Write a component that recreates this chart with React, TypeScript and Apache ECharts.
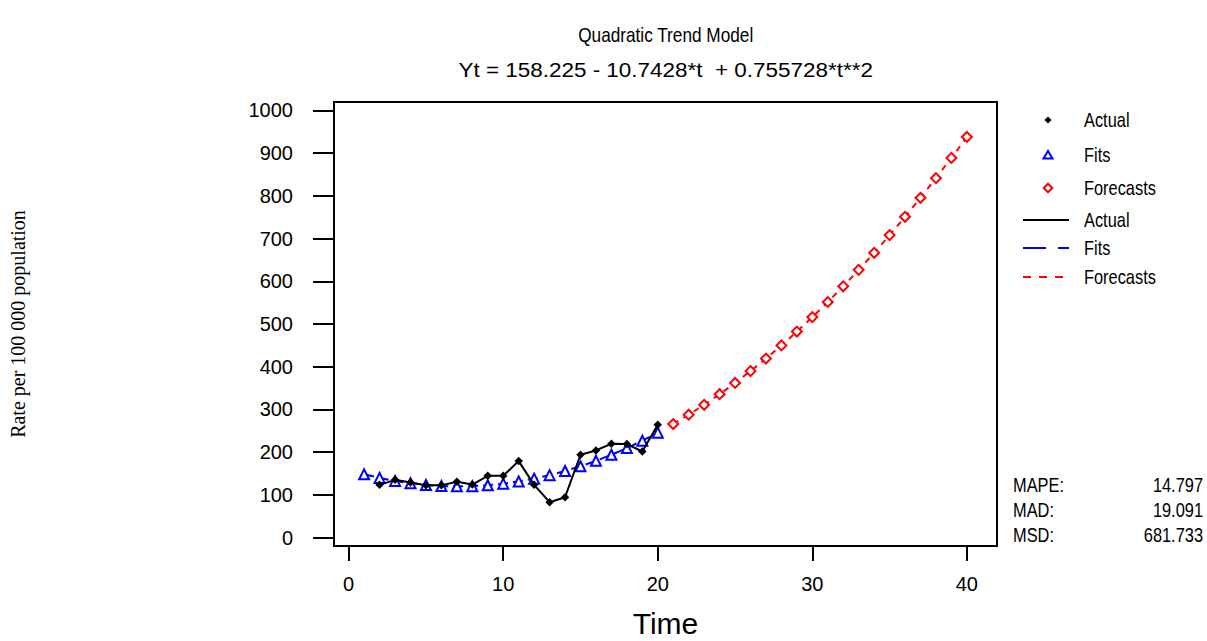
import React, { useEffect, useRef } from "react";
import * as echarts from "echarts";

const titleText = "Quadratic Trend Model";
const equationText = "Yt = 158.225 - 10.7428*t  + 0.755728*t**2";
const yAxisTitle = "Rate per 100 000 population";
const xAxisTitle = "Time";

const xTicks = [0, 10, 20, 30, 40];
const yTicks = [0, 100, 200, 300, 400, 500, 600, 700, 800, 900, 1000];

const actualTimes = [2, 3, 4, 5, 6, 7, 8, 9, 10, 11, 12, 13, 14, 15, 16, 17, 18, 19, 20];
const actualValues = [123.6, 135.3, 129.0, 122.9, 122.9, 130.6, 124.3, 144.7, 144.7, 179.2, 123.6, 83.0, 94.7, 194.0, 204.1, 219.7, 219.0, 201.7, 264.3];

const fitTimes = [1, 2, 3, 4, 5, 6, 7, 8, 9, 10, 11, 12, 13, 14, 15, 16, 17, 18, 19, 20];
const fitValues = [148.2, 139.8, 132.8, 127.3, 123.4, 121.0, 120.1, 120.6, 122.8, 126.4, 131.5, 138.1, 146.3, 155.9, 167.1, 179.8, 194.0, 209.7, 226.9, 245.7];

const forecastTimes = [21, 22, 23, 24, 25, 26, 27, 28, 29, 30, 31, 32, 33, 34, 35, 36, 37, 38, 39, 40];
const forecastValues = [265.9, 287.7, 310.9, 335.7, 362.0, 389.8, 419.1, 449.9, 482.3, 516.1, 551.5, 588.3, 626.7, 666.6, 708.0, 750.9, 795.3, 841.3, 888.7, 937.7];

const legendLabels = ["Actual", "Fits", "Forecasts", "Actual", "Fits", "Forecasts"];
const statNames = ["MAPE:", "MAD:", "MSD:"];
const statValues = ["14.797", "19.091", "681.733"];

const SANS = "'Liberation Sans', Arial, sans-serif";
const SERIF = "'Liberation Serif', 'Times New Roman', serif";

function pairs(xs: number[], ys: number[]) {
  return xs.map((x, i) => [x, ys[i]]);
}

export default function App() {
  const ref = useRef<HTMLDivElement>(null);
  useEffect(() => {
    if (!ref.current) return;
    const chart = echarts.init(ref.current, undefined, { renderer: "svg" });

    const legendY = [120, 155, 188, 220, 248, 277];
    const graphics: any[] = [];
    graphics.push({
      type: "text", x: 665.7, y: 35, scaleX: 0.82,
      style: { text: titleText, fontFamily: SANS, fontSize: 21, fill: "#000", verticalAlign: "middle", align: "center" },
    });
    graphics.push({
      type: "text", x: 665.7, y: 70, scaleX: 1.07,
      style: { text: equationText, fontFamily: SANS, fontSize: 21, fill: "#000", verticalAlign: "middle", align: "center" },
    });
    // marker legend entries
    graphics.push({
      type: "rect", x: 1048, y: legendY[0], rotation: Math.PI / 4,
      shape: { x: -2.5, y: -2.5, width: 5, height: 5 },
      style: { fill: "#000" },
    });
    graphics.push({
      type: "polygon",
      shape: { points: [[1048, legendY[1] - 4], [1043.5, legendY[1] + 3.5], [1052.5, legendY[1] + 3.5]] },
      style: { fill: "#fff", stroke: "#0000ff", lineWidth: 2 },
    });
    graphics.push({
      type: "rect", x: 1048, y: legendY[2], rotation: Math.PI / 4,
      shape: { x: -3, y: -3, width: 6, height: 6 },
      style: { fill: "#fff", stroke: "#ff0000", lineWidth: 2 },
    });
    graphics.push({
      type: "line", shape: { x1: 1023, y1: legendY[3], x2: 1069, y2: legendY[3] },
      style: { stroke: "#000", lineWidth: 2 },
    });
    graphics.push({
      type: "line", shape: { x1: 1023, y1: legendY[4], x2: 1069, y2: legendY[4] },
      style: { stroke: "#0000ff", lineWidth: 2, lineDash: [23, 12] },
    });
    graphics.push({
      type: "line", shape: { x1: 1023, y1: legendY[5], x2: 1069, y2: legendY[5] },
      style: { stroke: "#ff0000", lineWidth: 2, lineDash: [8, 8] },
    });
    legendLabels.forEach((t, i) => {
      graphics.push({
        type: "text", x: 1084, y: legendY[i], scaleX: 0.82,
        style: { text: t, fontFamily: SANS, fontSize: 20, fill: "#000", verticalAlign: "middle", align: "left" },
      });
    });
    const statY = [485, 510, 535];
    statNames.forEach((t, i) => {
      graphics.push({
        type: "text", x: 1013, y: statY[i], scaleX: 0.82,
        style: { text: t, fontFamily: SANS, fontSize: 20, fill: "#000", verticalAlign: "middle", align: "left" },
      });
      graphics.push({
        type: "text", x: 1203, y: statY[i], scaleX: 0.82,
        style: { text: statValues[i], fontFamily: SANS, fontSize: 20, fill: "#000", verticalAlign: "middle", align: "right" },
      });
    });

    chart.setOption({
      animation: false,
      backgroundColor: "#fff",
      grid: {
        left: 334, top: 102, width: 663, height: 444,
        outerBoundsMode: "none", containLabel: false,
        show: true, borderColor: "#000", borderWidth: 2, backgroundColor: "transparent",
      },
      xAxis: {
        type: "value", min: -0.95, max: 41.95,
        name: xAxisTitle, nameLocation: "middle", nameGap: 62,
        nameTextStyle: { fontFamily: SANS, fontSize: 30, color: "#000" },
        axisLine: { show: false, onZero: false },
        axisTick: { show: true, length: 15, lineStyle: { color: "#000", width: 2 }, customValues: xTicks },
        axisLabel: { fontFamily: SANS, fontSize: 20, color: "#000", margin: 28, customValues: xTicks, formatter: (v: number) => String(v) },
        splitLine: { show: false },
      },
      yAxis: {
        type: "value", min: -19.5, max: 1019.5,
        name: yAxisTitle, nameLocation: "middle", nameGap: 306,
        nameTextStyle: { fontFamily: SERIF, fontSize: 20, color: "#000" },
        axisLine: { show: false, onZero: false },
        axisTick: { show: true, length: 21, lineStyle: { color: "#000", width: 2 }, customValues: yTicks },
        axisLabel: { fontFamily: SANS, fontSize: 20, color: "#000", margin: 41, customValues: yTicks, formatter: (v: number) => String(v) },
        splitLine: { show: false },
      },
      graphic: graphics,
      series: [
        {
          name: "Forecasts", type: "line", data: pairs(forecastTimes, forecastValues),
          symbol: "rect", symbolRotate: 45, symbolSize: 7,
          itemStyle: { color: "#fff", borderColor: "#ff0000", borderWidth: 2 },
          lineStyle: { color: "#ff0000", width: 2, type: [6, 6] },
          z: 2,
        },
        {
          name: "Fits", type: "line", data: pairs(fitTimes, fitValues),
          symbol: "triangle", symbolSize: 10,
          itemStyle: { color: "#fff", borderColor: "#0000ff", borderWidth: 2 },
          lineStyle: { color: "#0000ff", width: 2, type: [10, 5] },
          z: 3,
        },
        {
          name: "Actual", type: "line", data: pairs(actualTimes, actualValues),
          symbol: "rect", symbolRotate: 45, symbolSize: 6,
          itemStyle: { color: "#000" },
          lineStyle: { color: "#000", width: 2 },
          z: 4,
        },
      ],
    });
    return () => chart.dispose();
  }, []);
  return <div ref={ref} style={{ position: "absolute", left: 0, top: 0, width: 1207, height: 641 }} />;
}
